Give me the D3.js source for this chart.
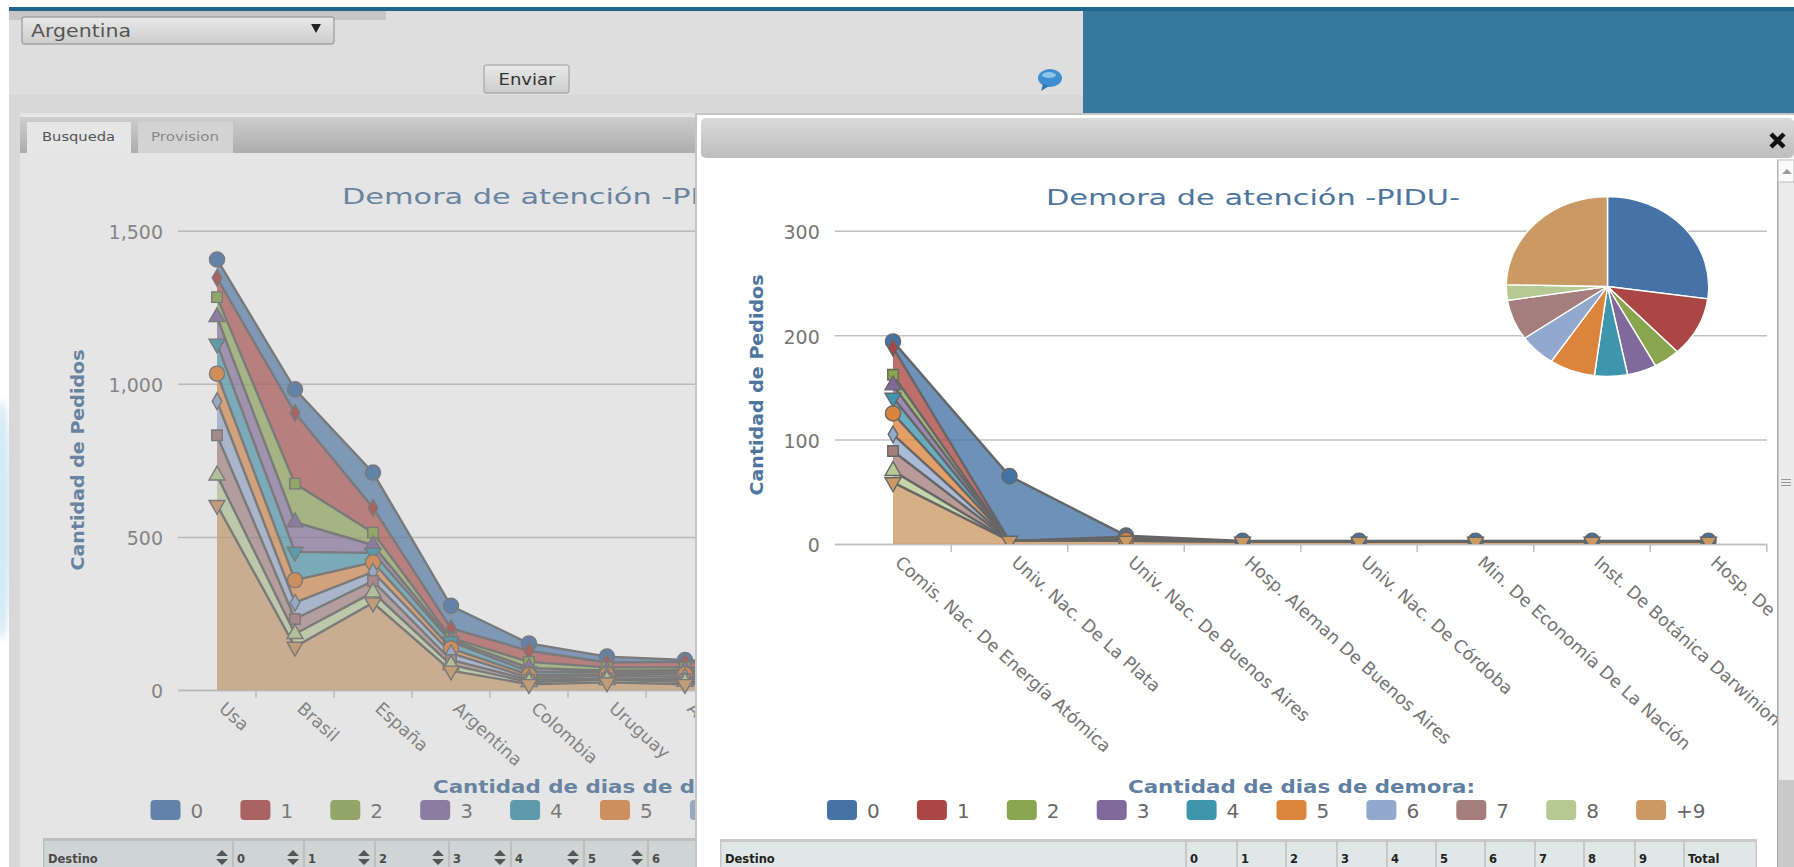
<!DOCTYPE html>
<html><head><meta charset="utf-8">
<style>
html,body{margin:0;padding:0;background:#fff;overflow:hidden}
svg{display:block}
text{font-family:"DejaVu Sans",sans-serif}
</style>
<script src="https://cdn.jsdelivr.net/npm/d3@7"></script>
</head><body><svg id="c" width="1794" height="867"></svg>
<script>
const seriesNames=["0","1","2","3","4","5","6","7","8","+9"];
const palette=["#4572A7","#AA4643","#89A54E","#80699B","#3D96AE","#DB843D","#92A8CD","#A47D7C","#B5CA92","#CB9964"];
const chartTitle="Demora de atención -PIDU-";
const yTitle="Cantidad de Pedidos";
const legendTitle="Cantidad de dias de demora:";

const leftCategories=["Usa","Brasil","España","Argentina","Colombia","Uruguay","Alemania","Chile"];
const leftTicks=[0,500,1000,1500];
const left0=[60,77,115,74,24,19,6,5];
const left1=[63,231,81,31,36,16,18,14];
const left2=[65,126,41,6,20,11,9,8];
const left3=[87,97,25,6,12,5,6,6];
const left4=[98,92,31,22,11,7,7,6];
const left5=[90,74,31,16,9,5,9,8];
const left6=[111,53,30,22,7,8,8,7];
const left7=[131,49,37,16,7,5,8,7];
const left8=[97,42,34,19,7,8,8,7];
const left9=[604,141,285,63,19,25,19,17];
const leftSeries=[left0,left1,left2,left3,left4,left5,left6,left7,left8,left9];

const rightCategories=["Comis. Nac. De Energía Atómica","Univ. Nac. De La Plata","Univ. Nac. De Buenos Aires","Hosp. Aleman De Buenos Aires","Univ. Nac. De Córdoba","Min. De Economía De La Nación","Inst. De Botánica Darwinion","Hosp. De"];
const rightTicks=[0,100,200,300];
const right0=[6,62,1,1,1,1,1,1];
const right1=[26,0,2,0,0,0,0,0];
const right2=[10,0,1,0,0,0,0,0];
const right3=[12,0,0,0,0,0,0,0];
const right4=[15,0,0,0,0,0,0,0];
const right5=[20,0,1,0,0,0,0,0];
const right6=[16,0,0,0,0,0,0,0];
const right7=[19,0,0,0,0,0,0,0];
const right8=[11,0,0,0,0,0,0,0];
const right9=[59,3,3,2,2,2,2,2];
const rightSeries=[right0,right1,right2,right3,right4,right5,right6,right7,right8,right9];

const pieShares=[27.2,10.7,4.25,4.67,5.25,7.3,5.9,7.25,2.8,24.68];

const leftColumns=["Destino","0","1","2","3","4","5","6"];
const rightColumns=["Destino","0","1","2","3","4","5","6","7","8","9","Total"];

const svg=d3.select("#c");
function R(p,x,y,w,h,f,extra){const r=p.append("rect").attr("x",x).attr("y",y).attr("width",w).attr("height",h).attr("fill",f);if(extra)extra(r);return r;}
function T(p,s,x,y,size,fill,opts={}){const t=p.append("text").attr("x",x).attr("y",y).attr("font-size",size).attr("fill",fill).text(s);
 if(opts.bold)t.attr("font-weight","bold");if(opts.anchor)t.attr("text-anchor",opts.anchor);
 if(opts.len)t.attr("textLength",opts.len).attr("lengthAdjust","spacingAndGlyphs");if(opts.transform)t.attr("transform",opts.transform);return t;}

const defs=svg.append("defs");
function grad(id,a,b){const g=defs.append("linearGradient").attr("id",id).attr("x1",0).attr("x2",0).attr("y1",0).attr("y2",1);
 g.append("stop").attr("offset",0).attr("stop-color",a);g.append("stop").attr("offset",1).attr("stop-color",b);}
grad("tabbar","#cfcfcf","#adadad");grad("head","#dadada","#bdbdbd");grad("btn","#e8e8e8","#cdcdcd");
const glow=defs.append("filter").attr("id","soft");glow.append("feGaussianBlur").attr("stdDeviation",3);

// page background
R(svg,0,0,1794,867,"#ffffff");
svg.append("ellipse").attr("cx",2).attr("cy",520).attr("rx",9).attr("ry",120).attr("fill","#d3eaf5").attr("filter","url(#soft)");
R(svg,9,7,1785,4,"#1f6690");
R(svg,9,11,1074,102,"#dedede");
R(svg,9,11,377,9,"#c6c6c6");
R(svg,9,95,1074,18,"#d8d8d8");
R(svg,1083,11,711,102,"#37799d");
R(svg,9,113,1785,5,"#e4e4e4");
R(svg,9,113,11,754,"#d8d8d8");

// select + button
R(svg,22,17,312,27,"url(#btn)",r=>r.attr("rx",2).attr("stroke","#8a8a8a").attr("stroke-width",1));
T(svg,"Argentina",31,37,17,"#555",{len:100});
svg.append("path").attr("d","M311 24h10l-5 9z").attr("fill","#222");
R(svg,484,65,85,28,"url(#btn)",r=>r.attr("rx",2).attr("stroke","#9a9a9a").attr("stroke-width",1));
T(svg,"Enviar",527,85,16,"#333",{anchor:"middle",len:57});
svg.append("ellipse").attr("cx",1050).attr("cy",78).attr("rx",12).attr("ry",9).attr("fill","#3f8fd0");
svg.append("ellipse").attr("cx",1049).attr("cy",75).attr("rx",7).attr("ry",3).attr("fill","#8fc4ea");
svg.append("path").attr("d","M1043 84l-2 7 8-5z").attr("fill","#2d7ab8");

// left tab panel
R(svg,20,115,677,752,"#ffffff");

let chartId=0;
function drawChart(g,cfg){
 const {cats,series,ticks,yMax,top,bottom,xStart,step,gridEnd,labelFont,ticksPad}=cfg;
 const x=d3.scaleBand().domain(cats).range([xStart,xStart+step*cats.length]);
 const cx=c=>x(c)+x.bandwidth()/2;
 const y=d3.scaleLinear().domain([0,yMax]).range([bottom,top]);
 const rows=cats.map((c,i)=>{const o={cat:c};seriesNames.forEach((n,k)=>o[n]=series[k][i]);return o;});
 // stack: first series sits on top, the last at the base
 const layers=d3.stack().keys(seriesNames).order(d3.stackOrderReverse)(rows);

 const yAxis=d3.axisLeft(y).tickValues(ticks).tickFormat(d3.format(",")).tickSizeInner(-(gridEnd-xStart)).tickSizeOuter(0).tickPadding(ticksPad);
 const ya=g.append("g").attr("transform",`translate(${xStart},0)`).call(yAxis);
 ya.select(".domain").remove();
 ya.selectAll("line").attr("stroke","#c0c0c0").attr("stroke-width",1.5);
 ya.selectAll("text").attr("font-size",19).attr("fill","#767676").attr("font-family",'"DejaVu Sans",sans-serif').attr("dy","0.42em");

 const xAxis=d3.axisBottom(x).tickSize(0).tickPadding(0);
 const xa=g.append("g").attr("transform",`translate(0,${bottom})`).call(xAxis);
 xa.select(".domain").attr("stroke","#c0c0c0").attr("stroke-width",1.5);
 xa.selectAll("text").attr("font-size",labelFont).attr("fill","#747474").attr("font-family",'"DejaVu Sans",sans-serif')
   .attr("text-anchor","start").attr("y",0).attr("dy",0).attr("transform","translate(1,20) rotate(42)");
 g.selectAll(".xt").data(cats.slice(1).concat(["__end"])).enter().append("line").attr("class","xt")
   .attr("x1",d=>d==="__end"?xStart+step*cats.length:x(d)).attr("x2",d=>d==="__end"?xStart+step*cats.length:x(d))
   .attr("y1",bottom).attr("y2",bottom+8).attr("stroke","#c0c0c0").attr("stroke-width",1.5);

 const area=d3.area().x(d=>cx(d.data.cat)).y0(d=>y(d[0])).y1(d=>y(d[1]));
 const line=d3.line().x(d=>cx(d.data.cat)).y(d=>y(d[1]));
 const idx=n=>seriesNames.indexOf(n);
 const g2=g.append("g");
 layers.slice().sort((a,b)=>idx(a.key)-idx(b.key)).forEach(l=>{
  const c=palette[idx(l.key)];
  g2.append("path").datum(l).attr("d",area).attr("fill",c).attr("fill-opacity",.78);
  g2.append("path").datum(l).attr("d",line).attr("fill","none").attr("stroke","#666").attr("stroke-width",2.4);
 });
 // markers stop at the axis; a series with no requests in a category has no marker
 const clipId="plot"+(chartId++);
 defs.append("clipPath").attr("id",clipId).append("rect").attr("x",xStart-20).attr("y",top-20).attr("width",gridEnd-xStart+40).attr("height",bottom-top+20+cfg.clipBelow);
 const mk=g2.append("g").attr("clip-path",`url(#${clipId})`);
 const shapes=[[d3.symbolCircle,180,0],[d3.symbolDiamond,80,0],[d3.symbolSquare,110,0],[d3.symbolTriangle,110,0],[d3.symbolTriangle,110,180]];
 layers.slice().sort((a,b)=>idx(a.key)-idx(b.key)).forEach(l=>{
  const k=idx(l.key),s=shapes[k%5],c=palette[k];
  const rot=s[2];
  mk.selectAll(null).data(l.filter(d=>d[1]>d[0])).enter().append("path")
   .attr("d",d3.symbol().type(s[0]).size(s[1]))
   .attr("transform",d=>`translate(${cx(d.data.cat)},${y(d[1])}) rotate(${rot})`)
   .attr("fill",c).attr("stroke","#666").attr("stroke-width",1.4);
 });
}

function legend(g,x0,y0,names){
 const sw=g.selectAll(null).data(names).enter().append("g").attr("transform",(d,i)=>`translate(${x0+i*89.9},${y0})`);
 sw.append("rect").attr("width",30).attr("height",20).attr("rx",4).attr("fill",d=>palette[seriesNames.indexOf(d)]);
 sw.append("text").attr("x",40).attr("y",18).attr("font-size",20).attr("fill","#666").text(d=>d);
}

function tableHead(g,x0,x1,y0,edges,cols,arrows){
 R(g,x0,y0,x1-x0,867-y0,"#e0e7e7");
 R(g,x0,y0,x1-x0,3,"#c8c8c8");
 R(g,x0,y0,1.5,867-y0,"#c8c8c8");
 R(g,x1-1.5,y0,1.5,867-y0,"#c8c8c8");
 edges.forEach(e=>R(g,e,y0,2,867-y0,"#c8c8c8"));
 cols.forEach((c,i)=>{const tx=i===0?x0+5:edges[i-1]+5;T(g,c,tx,863,11.5,"#222",{bold:true});
  if(arrows){const ax=edges[i]-10;g.append("path").attr("d",`M${ax-6} 856l6-6 6 6zM${ax-6} 859l6 6 6-6z`).attr("fill","#333");}});
}

const L=svg.append("g");
T(L,chartTitle,342,204,22,"#4d759e",{len:414});
T(L,yTitle,0,0,17,"#4d759e",{bold:true,anchor:"middle",len:221,transform:"translate(84,460) rotate(-90)"});
drawChart(L,{cats:leftCategories,series:leftSeries,ticks:leftTicks,yMax:1500,top:230.7,bottom:690,xStart:178,step:78,gridEnd:802,labelFont:17.5,ticksPad:15,clipBelow:12});
T(L,legendTitle,433,793,18.5,"#4d759e",{bold:true,len:347});
legend(L,150.5,800,seriesNames);
tableHead(L,43,760,838,[232,303,374,448,510,583,647,720],leftColumns,true);
// modal shade over the page behind the dialog
R(svg,20,153,677,714,"#aaaaaa",r=>r.attr("fill-opacity",.3));

// tab bar
R(svg,20,115,677,38,"url(#tabbar)");
R(svg,20,115,677,2,"#e8e8e8");
R(svg,27,122,104,33,"#e6e6e6");
R(svg,138,122,95,31,"#d3d3d3");
T(svg,"Busqueda",42,141,12,"#555",{len:73});
T(svg,"Provision",151,141,12,"#888",{len:68});

// dialog
R(svg,695,113,1099,754,"#c4c4c4");
R(svg,697,115,1097,752,"#ffffff");
R(svg,701,118,1093,40,"url(#head)",r=>r.attr("rx",5));
svg.append("path").attr("d","M1771 134l13 13M1784 134l-13 13").attr("stroke","#111").attr("stroke-width",4.5);
const M=svg.append("g");
T(M,chartTitle,1046,205,22,"#4d759e",{len:414});
T(M,yTitle,0,0,17,"#4d759e",{bold:true,anchor:"middle",len:221,transform:"translate(763,385) rotate(-90)"});
drawChart(M,{cats:rightCategories,series:rightSeries,ticks:rightTicks,yMax:300,top:230.7,bottom:544,xStart:834.75,step:116.5,gridEnd:1767,labelFont:17.5,ticksPad:15,clipBelow:0});
T(M,legendTitle,1128,793,18.5,"#5f7fa3",{bold:true,len:347});
legend(M,827,800,seriesNames);
tableHead(M,720,1757,839,[1185,1236,1285,1336,1386,1435,1484,1534,1583,1634,1683],rightColumns,false);

// pie
const arc=d3.arc().innerRadius(0).outerRadius(90);
const pg=M.append("g").attr("transform","translate(1607.5,286.5) scale(1.125,1)");
pg.selectAll("path").data(d3.pie().sort(null)(pieShares)).enter().append("path").attr("d",arc)
  .attr("fill",(d,i)=>palette[i]).attr("stroke","#fff").attr("stroke-width",1.3);

// scrollbar
R(svg,1778,160,16,707,"#ececec");
R(svg,1777,160,1.5,707,"#a8a8a8");
R(svg,1778,160,16,22,"#fafafa",r=>r.attr("stroke","#bbb"));
svg.append("path").attr("d","M1782 174l5-5 5 5z").attr("fill","#999");
R(svg,1778,780,16,87,"#c9c9c9");
[479,482,485].forEach(v=>R(svg,1781,v,10,1,"#999"));
</script></body></html>
